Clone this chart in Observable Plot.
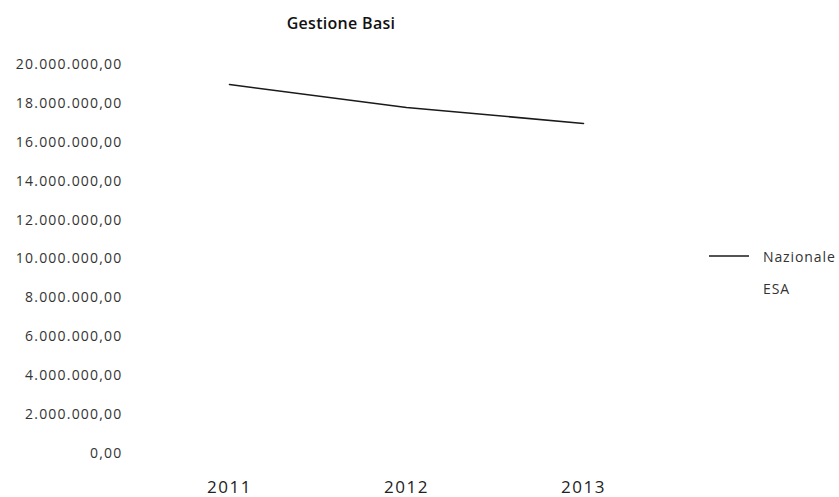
<!DOCTYPE html>
<html><head><meta charset="utf-8">
<script src="https://cdn.jsdelivr.net/npm/d3@7"></script>
<script src="https://cdn.jsdelivr.net/npm/@observablehq/plot@0.6"></script>
<style>
body{margin:0;background:#fff;font-family:"Open Sans",sans-serif;}
#wrap{position:relative;width:839px;height:497px;overflow:hidden;}
#title{position:absolute;top:12px;left:341px;transform:translateX(-50%);font-weight:600;font-size:16px;letter-spacing:0.3px;color:#111;white-space:nowrap;line-height:22px}
#chart{position:absolute;top:46px;left:0}
#legend{position:absolute;left:709px;top:240px;font-size:14px;color:#333;letter-spacing:0.9px}
#legend .row{height:32px;display:flex;align-items:center;white-space:nowrap}
#legend svg{margin-right:14px}
</style></head><body>
<div id="wrap"><div id="title"></div><div id="chart"></div><div id="legend"></div></div>
<script>
const chartTitle = "Gestione Basi";
const years = ["2011", "2012", "2013"];
const seriesNames = ["Nazionale", "ESA"];
const nazionale = [18970000, 17790000, 16970000];
const esa = [null, null, null];
const yTicks = [0, 2000000, 4000000, 6000000, 8000000, 10000000, 12000000, 14000000, 16000000, 18000000, 20000000];
const seriesColors = ["#1a1a1a", "#ffffff"];

const values = {Nazionale: nazionale, ESA: esa};
const data = seriesNames.flatMap(s => years.map((y, i) => ({series: s, year: y, value: values[s][i]})));

const itFormat = d3.formatLocale({decimal: ",", thousands: ".", grouping: [3], currency: ["", "€"]}).format(",.2f");

document.getElementById("title").textContent = chartTitle;

const plot = Plot.plot({
  width: 839,
  height: 451,
  marginTop: 18,
  marginBottom: 44,
  marginLeft: 140,
  marginRight: 167,
  style: {fontFamily: "Open Sans, sans-serif", fontSize: "14px", color: "#333", background: "#fff"},
  x: {type: "point", domain: years, padding: 0.5, axis: null},
  y: {domain: [0, 20000000], axis: null},
  color: {domain: seriesNames, range: seriesColors},
  marks: [
    Plot.axisY({ticks: yTicks, tickSize: 0, tickPadding: 18, tickFormat: itFormat, fill: "#333", label: null}),
    Plot.axisX({tickSize: 0, tickPadding: 27, fill: "#222", label: null}),
    Plot.lineY(data.filter(d => d.value != null), {x: "year", y: "value", z: "series", stroke: "series", strokeWidth: 1.6})
  ]
});
d3.select(plot).selectAll('g[aria-label="y-axis tick label"] text').style("letter-spacing", "1.2px");
d3.select(plot).selectAll('g[aria-label="x-axis tick label"] text').style("font-size", "17px").style("letter-spacing", "1.5px");
document.getElementById("chart").appendChild(plot);

const legend = d3.select("#legend");
seriesNames.forEach((s, i) => {
  const row = legend.append("div").attr("class", "row");
  const sw = row.append("svg").attr("width", 40).attr("height", 4);
  if (s === "Nazionale") sw.append("line").attr("x1", 0).attr("x2", 40).attr("y1", 2).attr("y2", 2).attr("stroke", seriesColors[i]).attr("stroke-width", 1.6);
  row.append("span").text(s);
});
</script>
</body></html>
